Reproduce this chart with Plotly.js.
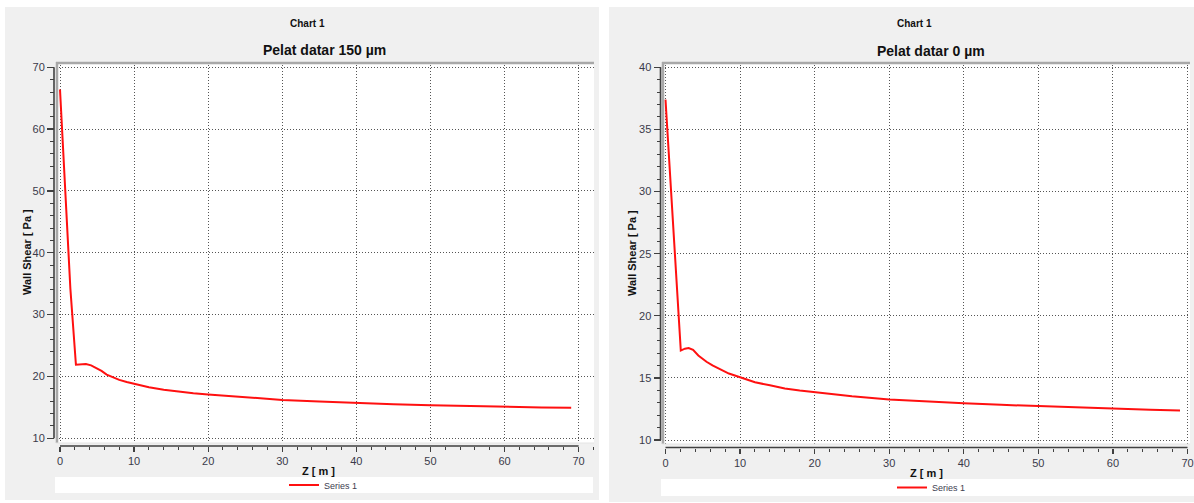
<!DOCTYPE html>
<html>
<head>
<meta charset="utf-8">
<script src="https://cdn.plot.ly/plotly-3.0.1.min.js"></script>
<style>html,body{margin:0;padding:0;background:#fff;}#chart{width:1194px;height:503px;}</style>
</head>
<body>
<div id="chart"></div>
<script>
// ---- data ----
const seriesName = "Series 1";
const chartLabel = "Chart 1";
const titleLeft = "Pelat datar 150 µm";
const titleRight = "Pelat datar 0 µm";
const xTitle = "Z [ m ]";
const yTitle = "Wall Shear [ Pa ]";

const zLeft = [0, 0.7, 1.4, 2.15, 2.8, 3.5, 4.2, 4.9, 5.6, 6.3, 7, 8, 9, 10, 12, 14, 16, 18, 20, 25, 30, 35, 40, 45, 50, 55, 60, 65, 69];
const shearLeft = [66.4, 50.3, 34.2, 21.9, 22.0, 22.0, 21.8, 21.4, 20.9, 20.3, 19.9, 19.45, 19.1, 18.8, 18.25, 17.85, 17.55, 17.3, 17.1, 16.6, 16.2, 15.95, 15.7, 15.5, 15.35, 15.2, 15.1, 15.0, 14.95];

const zRight = [0, 0.7, 1.4, 2.05, 2.6, 3.1, 3.7, 4.4, 5.5, 6.3, 7.3, 8.5, 10, 12, 14, 16, 18, 20, 25, 30, 35, 40, 45, 50, 55, 60, 65, 69];
const shearRight = [37.4, 30.4, 23.2, 17.2, 17.35, 17.4, 17.25, 16.8, 16.3, 16.0, 15.7, 15.35, 15.05, 14.65, 14.4, 14.15, 13.98, 13.85, 13.52, 13.26, 13.08, 12.95, 12.83, 12.72, 12.62, 12.52, 12.44, 12.38];

const xTicks = [0, 10, 20, 30, 40, 50, 60, 70];
const yTicksLeft = [10, 20, 30, 40, 50, 60, 70];
const yTicksRight = [10, 15, 20, 25, 30, 35, 40];

// ---- geometry (pixels) ----
const W = 1194, H = 503;
const px = x => x / W;
const py = y => 1 - y / H;

const FONT = "Liberation Sans, Arial, sans-serif";
const tickColor = "#3a3a4a";
const lineColor = "#404040";
const gridDash = "1px,2px";
const gridColor = "#555555";

// left chart pixel geometry
const L = {panel:[5,7,599,500], plot:[56,62,594,443], x0:60, x70:578.6, y10:438.3, yTop:67.3, yAxisX:54, xAxisY:446,
  legend:[55,477,593,493]};
const R = {panel:[609,7,1194,502], plot:[662,62,1190,444], x0:665.5, x70:1187.5, y10:440, yTop:67.3, yAxisX:660.5, xAxisY:447.5,
  legend:[661,479,1194,496]};

function xRange(g){ const s = (g.x70 - g.x0) / (xTicks[xTicks.length-1] - xTicks[0]); return [xTicks[0] - (g.x0 - g.plot[0]) / s, xTicks[xTicks.length-1] + (g.plot[2] - g.x70) / s]; }
function yRange(g, yt){ const lo = yt[0], hi = yt[yt.length-1]; const s = (g.y10 - g.yTop) / (hi - lo); return [lo - (g.plot[3] - g.y10) / s, hi + (g.yTop - g.plot[1]) / s]; }

function xAxis(g){
  return {domain:[px(g.plot[0]), px(g.plot[2])], range:xRange(g), anchor:'free', position:py(g.xAxisY),
    tickmode:'array', tickvals:xTicks, ticks:'outside', ticklen:5, tickwidth:1.3, tickcolor:lineColor,
    minor:{dtick:2, tick0:0, ticks:'outside', ticklen:3, tickwidth:1, tickcolor:lineColor, showgrid:false},
    showgrid:true, gridcolor:gridColor, gridwidth:1, griddash:gridDash, zeroline:false, showline:false,
    tickfont:{family:FONT, size:11, color:tickColor}, fixedrange:true};
}
function yAxis(g, yt, minorStep){
  return {domain:[py(g.plot[3]), py(g.plot[1])], range:yRange(g, yt), anchor:'free', position:px(g.yAxisX),
    tickmode:'array', tickvals:yt, ticks:'outside', ticklen:7, tickwidth:1.3, tickcolor:lineColor,
    minor:{dtick:minorStep, tick0:yt[0], ticks:'outside', ticklen:4, tickwidth:1, tickcolor:lineColor, showgrid:false},
    showgrid:true, gridcolor:gridColor, gridwidth:1, griddash:gridDash, zeroline:false, showline:false,
    tickfont:{family:FONT, size:11, color:tickColor}, fixedrange:true};
}

const traces = [
  {x:zLeft, y:shearLeft, xaxis:'x', yaxis:'y', type:'scatter', mode:'lines', name:seriesName,
   line:{color:'#ff1010', width:2}, legend:'legend'},
  {x:zRight, y:shearRight, xaxis:'x2', yaxis:'y2', type:'scatter', mode:'lines', name:seriesName,
   line:{color:'#ff1010', width:2}, legend:'legend2'}
];

function rect(b, fill){ return {type:'rect', xref:'paper', yref:'paper', x0:px(b[0]), x1:px(b[2]), y0:py(b[3]), y1:py(b[1]), fillcolor:fill, line:{width:0}, layer:'below'}; }
function frame(g){
  const c = '#a8a8a8';
  return [
    {type:'line', xref:'paper', yref:'paper', x0:px(g.plot[0]), x1:px(g.plot[2]), y0:py(g.plot[1]+1), y1:py(g.plot[1]+1), line:{color:c, width:2.5}, layer:'above'},
    {type:'line', xref:'paper', yref:'paper', x0:px(g.plot[0]+1), x1:px(g.plot[0]+1), y0:py(g.plot[1]), y1:py(g.plot[3]), line:{color:c, width:2.5}, layer:'above'},
    {type:'line', xref:'paper', yref:'paper', x0:px(g.plot[0]), x1:px(g.plot[2]), y0:py(g.plot[3]), y1:py(g.plot[3]), line:{color:'#e4e4e4', width:1}, layer:'above'}
  ];
}
function axisLines(g, xa, ya, yt){
  return [
    {type:'line', xref:xa, yref:'paper', x0:xTicks[0], x1:xTicks[xTicks.length-1], y0:py(g.xAxisY), y1:py(g.xAxisY), line:{color:lineColor, width:1.6}, layer:'above'},
    {type:'line', xref:'paper', yref:ya, x0:px(g.yAxisX), x1:px(g.yAxisX), y0:yt[0], y1:yt[yt.length-1], line:{color:lineColor, width:1.6}, layer:'above'}
  ];
}

const shapes = [
  rect(L.panel, '#f0f0f0'), rect(R.panel, '#f0f0f0'),
  rect(L.plot, '#ffffff'), rect(R.plot, '#ffffff'),
  rect(L.legend, '#ffffff'), rect(R.legend, '#ffffff'),
  ...frame(L), ...frame(R),
  ...axisLines(L, 'x', 'y', yTicksLeft), ...axisLines(R, 'x2', 'y2', yTicksRight)
];

function ann(text, x, y, size, bold, angle){
  return {text: bold ? '<b>'+text+'</b>' : text, xref:'paper', yref:'paper', x:px(x), y:py(y), xanchor:'center', yanchor:'middle',
    showarrow:false, textangle:angle||0, font:{family:FONT, size:size, color:'#111111'}};
}
const annotations = [
  ann(chartLabel, 307, 23, 10, true), ann(chartLabel, 914, 23, 10, true),
  ann(titleLeft, 324, 50, 14, true), ann(titleRight, 931, 51, 14, true),
  ann(yTitle, 27, 252, 11, true, -90), ann(yTitle, 632, 253, 11, true, -90),
  ann(xTitle, 318, 471, 11, true), ann(xTitle, 926.5, 473, 11, true)
];

function legendAt(x, y){
  return {x:px(x), y:py(y), xanchor:'left', yanchor:'middle', bgcolor:'rgba(0,0,0,0)', borderwidth:0,
    font:{family:FONT, size:9, color:'#404050'}, itemwidth:30, orientation:'h', tracegroupgap:0};
}

const layout = {
  width:W, height:H, margin:{l:0, r:0, t:0, b:0},
  paper_bgcolor:'#ffffff', plot_bgcolor:'rgba(0,0,0,0)',
  showlegend:true,
  xaxis:xAxis(L), yaxis:yAxis(L, yTicksLeft, 2),
  xaxis2:xAxis(R), yaxis2:yAxis(R, yTicksRight, 1),
  shapes:shapes, annotations:annotations,
  legend:legendAt(284, 485), legend2:legendAt(892, 487.5)
};

Plotly.newPlot('chart', traces, layout, {displayModeBar:false, staticPlot:true});
</script>
</body>
</html>
